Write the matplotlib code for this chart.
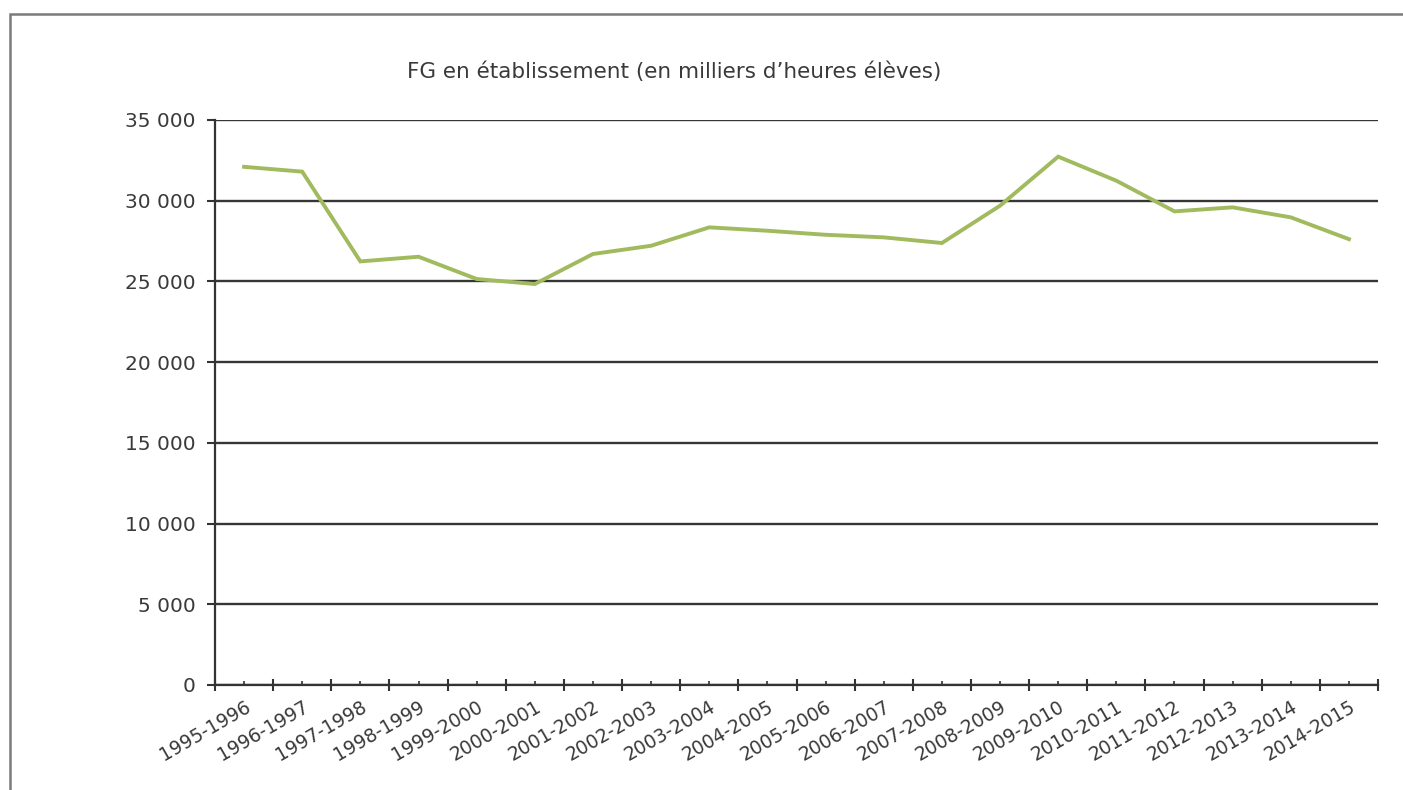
import matplotlib
matplotlib.use("Agg")
import matplotlib.pyplot as plt
from matplotlib.ticker import FixedLocator, FuncFormatter
from matplotlib.patches import Rectangle

categories = ["1995-1996", "1996-1997", "1997-1998", "1998-1999", "1999-2000",
              "2000-2001", "2001-2002", "2002-2003", "2003-2004", "2004-2005",
              "2005-2006", "2006-2007", "2007-2008", "2008-2009", "2009-2010",
              "2010-2011", "2011-2012", "2012-2013", "2013-2014", "2014-2015"]
values = [32100, 31800, 26240, 26530, 25150, 24840, 26700, 27210, 28350, 28140,
          27890, 27730, 27380, 29690, 32730, 31240, 29340, 29590, 28970, 27620]
y_ticks = [0, 5000, 10000, 15000, 20000, 25000, 30000, 35000]
title = "FG en établissement (en milliers d’heures élèves)"

txt = "#3a3a3a"
fig = plt.figure(figsize=(14.03, 7.90), dpi=100)
fig.patch.set_facecolor("white")
# outer frame
fig.patches.append(Rectangle((10 / 1403, -0.05), 1.1, 1.05 - 14 / 790,
                             transform=fig.transFigure, fill=False,
                             edgecolor="#7a7a7a", linewidth=1.8))

ax = fig.add_axes([215 / 1403, 1 - 685 / 790, (1378 - 215) / 1403, (685 - 120) / 790])
x = list(range(len(categories)))
ax.plot(x, values, color="#a2ba5e", linewidth=2.8, solid_joinstyle="miter", zorder=3)

ax.set_xlim(-0.5, len(categories) - 0.5)
ax.set_ylim(0, 35000)
ax.set_yticks(y_ticks)
ax.yaxis.set_major_formatter(FuncFormatter(lambda v, p: f"{int(v):,}".replace(",", " ")))
ax.grid(axis="y", color="#363636", linewidth=1.7, zorder=1)
ax.set_axisbelow(True)

ax.set_xticks(x)
ax.set_xticklabels(categories, rotation=30, ha="right", rotation_mode="anchor",
                   fontsize=13.5, color=txt)
ax.xaxis.set_minor_locator(FixedLocator([i - 0.5 for i in range(len(categories) + 1)]))
ax.tick_params(axis="x", which="major", direction="in", length=3, width=1.2,
               color="#333333", pad=9)
ax.tick_params(axis="x", which="minor", direction="inout", length=9, width=1.5,
               color="#333333")
ax.tick_params(axis="y", which="major", direction="out", length=6, width=1.5,
               color="#333333", labelsize=14.5, labelcolor=txt, pad=8)

for s in ["top", "right"]:
    ax.spines[s].set_visible(False)
for s in ["left", "bottom"]:
    ax.spines[s].set_color("#333333")
    ax.spines[s].set_linewidth(1.6)

fig.text(674 / 1403, 1 - 72 / 790, title, ha="center", va="center",
         fontsize=15.5, color=txt)

fig.savefig("out.png", dpi=100, facecolor="white")
